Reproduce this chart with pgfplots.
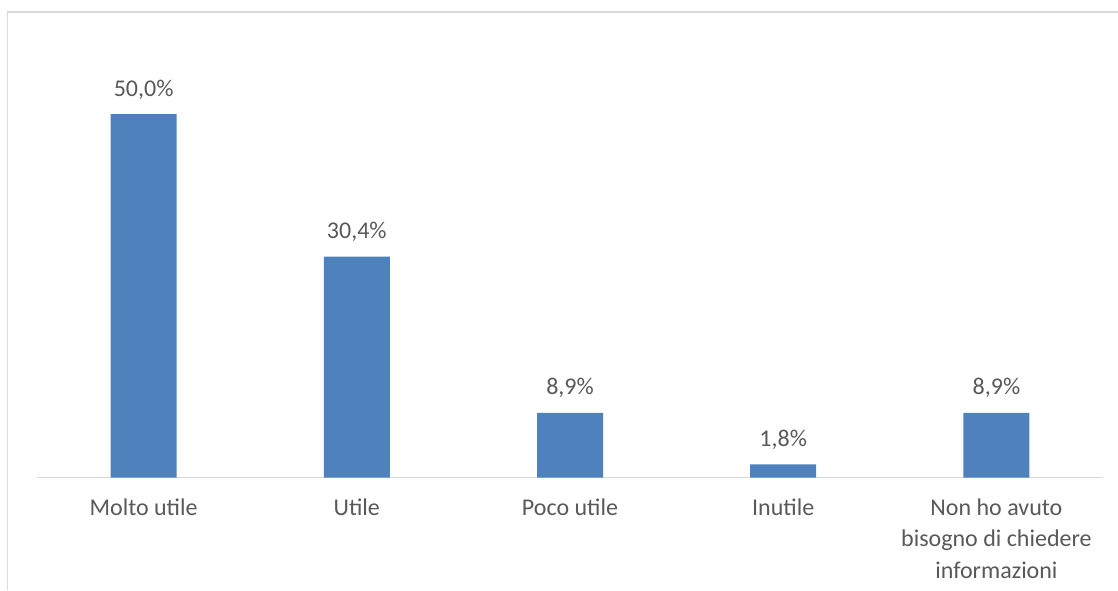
\documentclass[border=0pt]{standalone}
\usepackage{fontspec}
\setmainfont{Carlito}
\usepackage{pgfplots}
\pgfplotsset{compat=1.18}
\definecolor{barblue}{HTML}{4F81BD}
\definecolor{txtgray}{HTML}{595959}
\definecolor{linegray}{HTML}{D9D9D9}
\begin{document}
\begin{tikzpicture}
\useasboundingbox (0,0) rectangle (559pt,295pt);
\draw[linegray, line width=0.6pt] (3.75pt,0pt) -- (3.75pt,289pt) -- (559pt,289pt);
\begin{axis}[
  at={(18.5pt,56.25pt)}, anchor=south west,
  scale only axis,
  width=533pt, height=199.9pt,
  xmin=-0.5, xmax=4.5, ymin=0, ymax=55,
  enlargelimits=false,
  axis x line*=bottom,
  axis y line=none,
  x axis line style={linegray, line width=0.8pt},
  xtick=data,
  xtick style={draw=none},
  xticklabels={Molto utile, Utile, Poco utile, Inutile, {\begin{tabular}[t]{@{}c@{}}Non ho avuto\\bisogno di chiedere\\informazioni\end{tabular}}},
  xticklabel style={anchor=base, yshift=-14.5pt, text=txtgray, font=\fontsize{12}{15.75}\selectfont},
  ytick=\empty,
  ybar, bar width=33pt,
  nodes near coords={\pgfmathprintnumber[fixed,fixed zerofill,precision=1,use comma,assume math mode=true]{\pgfplotspointmeta}\%},
  nodes near coords style={anchor=base, yshift=9pt, text=txtgray, font=\fontsize{12}{14}\selectfont},
  clip=false,
]
\addplot[fill=barblue, draw=none] coordinates {(0,50.0) (1,30.4) (2,8.9) (3,1.8) (4,8.9)};
\end{axis}
\end{tikzpicture}
\end{document}
